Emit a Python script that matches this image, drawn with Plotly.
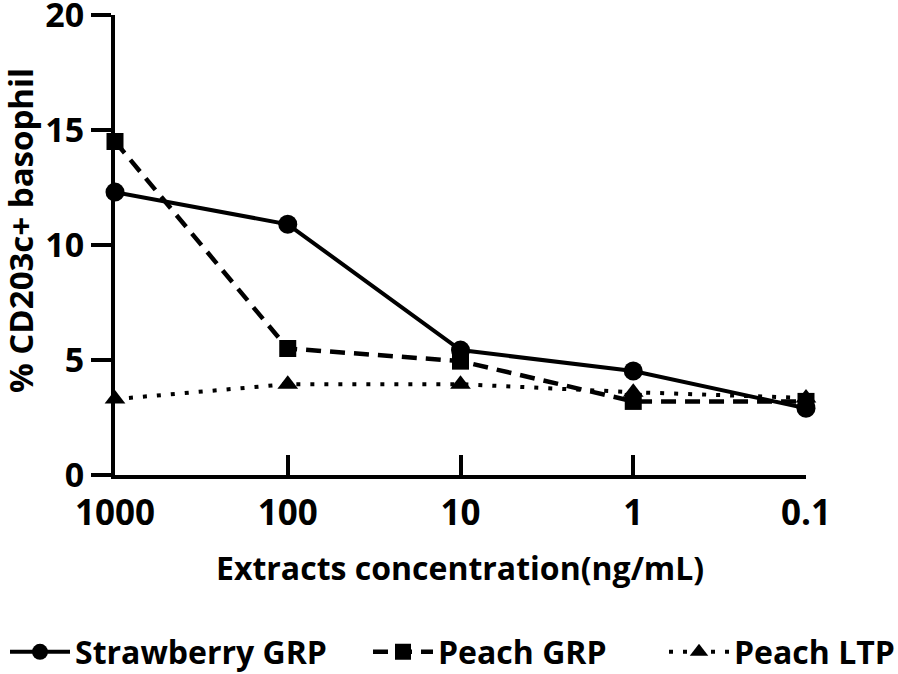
import plotly.graph_objects as go

categories = ["1000", "100", "10", "1", "0.1"]
strawberry_grp = [12.3, 10.9, 5.43, 4.52, 2.9]
peach_grp = [14.5, 5.5, 4.95, 3.2, 3.2]
peach_ltp = [3.3, 3.95, 3.95, 3.6, 3.35]

xpos = list(range(len(categories)))
FONT = "Open Sans"
L, R, T, B = 115, 92, 15, 199
W, H = 898, 674
PW, PH = W - L - R, H - T - B


def px_x(px):
    return (px - L) / PW


def px_y(py):
    return ((T + PH) - py) / PH


fig = go.Figure()
fig.add_trace(go.Scatter(x=xpos, y=peach_ltp, name="Peach LTP", mode="lines+markers",
                         line=dict(color="black", width=4, dash="4px,10px"),
                         marker=dict(symbol="triangle-up", size=18, color="black"),
                         cliponaxis=False, legend="legend3"))
fig.add_trace(go.Scatter(x=xpos, y=peach_grp, name="Peach GRP", mode="lines+markers",
                         line=dict(color="black", width=4.5, dash="15px,9px"),
                         marker=dict(symbol="square", size=17, color="black"),
                         cliponaxis=False, legend="legend2"))
fig.add_trace(go.Scatter(x=xpos, y=strawberry_grp, name="Strawberry GRP", mode="lines+markers",
                         line=dict(color="black", width=4),
                         marker=dict(symbol="circle", size=19, color="black"),
                         cliponaxis=False, legend="legend"))

LEG_Y = 652


def leg(xpx):
    return dict(orientation="h", xref="paper", yref="paper",
                x=px_x(xpx), xanchor="left", y=px_y(LEG_Y), yanchor="middle",
                font=dict(size=32, family=FONT, weight="bold"), itemwidth=60,
                bgcolor="rgba(0,0,0,0)")


fig.update_layout(
    width=W, height=H,
    margin=dict(l=L, r=R, t=T, b=B, autoexpand=False),
    plot_bgcolor="white", paper_bgcolor="white",
    font=dict(family=FONT, color="black", size=26, weight="bold"),
    showlegend=True,
    legend=leg(5), legend2=leg(368), legend3=leg(664),
    xaxis=dict(range=[0, 4], tickmode="array", tickvals=xpos, ticktext=categories,
               showline=True, linecolor="black", linewidth=4, showgrid=False, zeroline=False,
               ticks="inside", ticklen=20, tickwidth=4, tickcolor="black",
               ticklabelstandoff=4, automargin=False, ticklabeloverflow="allow",
               tickfont=dict(size=35, family=FONT, weight="bold")),
    yaxis=dict(range=[0, 20], tickmode="array", tickvals=[0, 5, 10, 15, 20],
               showline=True, linecolor="black", linewidth=4, showgrid=False, zeroline=False,
               ticks="outside", ticklen=20, tickwidth=4, tickcolor="black",
               automargin=False, ticklabeloverflow="allow",
               tickfont=dict(size=34, family=FONT, weight="bold")),
    annotations=[
        dict(text="Extracts concentration(ng/mL)", xref="paper", yref="paper",
             x=px_x(460), y=px_y(567), xanchor="center", yanchor="middle",
             showarrow=False, font=dict(size=32, family=FONT, weight="bold")),
        dict(text="% CD203c+ basophil", xref="paper", yref="paper",
             x=px_x(21), y=px_y(231), xanchor="center", yanchor="middle",
             textangle=-90, showarrow=False, font=dict(size=33, family=FONT, weight="bold")),
    ],
)

fig.write_html("out.html", config={"displayModeBar": False},
               post_script="document.body.style.margin='0';document.body.style.overflow='hidden';")
